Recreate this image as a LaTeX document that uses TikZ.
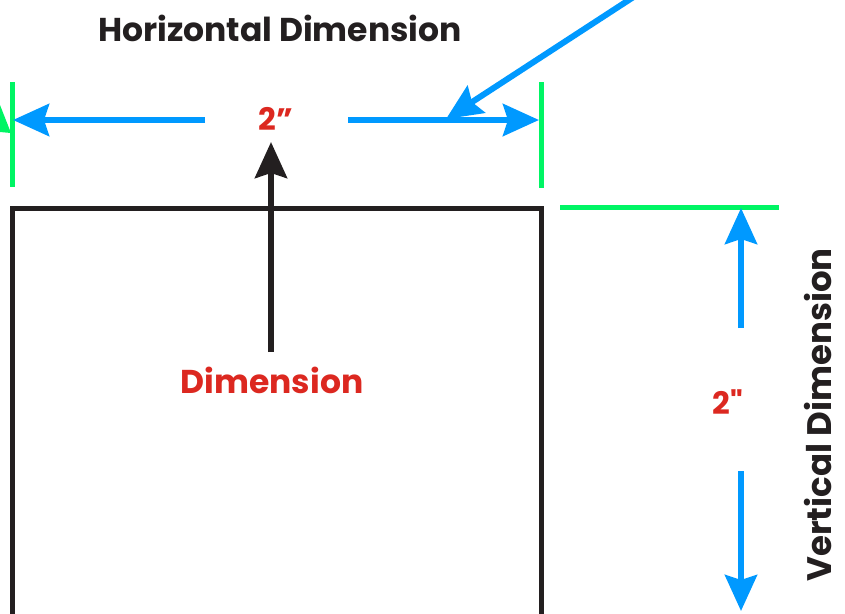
\documentclass[tikz,border=0pt]{standalone}
\usepackage{fontspec}
\newfontfamily\pop{Poppins}
\usetikzlibrary{arrows.meta}
\definecolor{dimblue}{RGB}{0,153,255}
\definecolor{dimgreen}{RGB}{0,245,100}
\definecolor{dimred}{RGB}{220,40,32}
\definecolor{dimblack}{RGB}{35,31,32}
\tikzset{
  bluearrow/.style={draw=dimblue, line width=6pt, -{Stealth[length=36pt,width=32pt,inset=5pt]}},
  blackarrow/.style={draw=dimblack, line width=6pt, -{Stealth[length=36pt,width=32pt,inset=5pt]}},
  greenline/.style={draw=dimgreen, line width=5pt},
  boxline/.style={draw=dimblack, line width=5pt},
  redlabel/.style={text=dimred, font=\pop\bfseries\fontsize{31}{35}\selectfont, inner sep=0pt},
  blacklabel/.style={text=dimblack, font=\pop\bfseries\fontsize{33}{38}\selectfont, inner sep=0pt},
}
\begin{document}
\begin{tikzpicture}[x=1pt,y=-1pt]
\useasboundingbox (0,0) rectangle (845,613);
\clip (0,0) rectangle (845,613);
% title
\node[blacklabel] (htitle) at (280,28) {Horizontal Dimension};
% green extension lines
\draw[greenline] (12,82) -- (12,187);
\draw[greenline] (541,82) -- (541,188);
\draw[greenline] (560,207) -- (779,207);
% partial green arrow head at left edge
\fill[dimgreen] (0,105) -- (11,133) -- (0,132) -- cycle;
% box
\draw[boxline] (12,640) -- (12,208) -- (541,208) -- (541,640);
% horizontal dimension
\coordinate (hLs) at (205,120);
\coordinate (hL) at (13,120);
\coordinate (hRs) at (348,120);
\coordinate (hR) at (539,120);
\draw[bluearrow] (hLs) -- (hL);
\draw[bluearrow] (hRs) -- (hR);
\node[redlabel] (h2) at (276,119) {2”};
% leader from horizontal dimension label
\coordinate (dstart) at (675,-30);
\coordinate (dtip) at (446,119);
\draw[bluearrow] (dstart) -- (dtip);
% dimension pointer
\node[redlabel, font=\pop\bfseries\fontsize{33}{38}\selectfont] (dimlbl) at (272,380) {Dimension};
\coordinate (pstart) at (271,352);
\coordinate (ptip) at (271,142);
\draw[blackarrow] (pstart) -- (ptip);
% vertical dimension
\coordinate (vTs) at (741,328);
\coordinate (vT) at (741,208);
\coordinate (vBs) at (741,471);
\coordinate (vB) at (741,611);
\draw[bluearrow] (vTs) -- (vT);
\draw[bluearrow] (vBs) -- (vB);
\node[redlabel] (v2) at (728,402) {2"};
\node[blacklabel, rotate=90, font=\pop\bfseries\fontsize{34}{38}\selectfont] (vtitle) at (818,415) {Vertical Dimension};
\end{tikzpicture}
\end{document}
